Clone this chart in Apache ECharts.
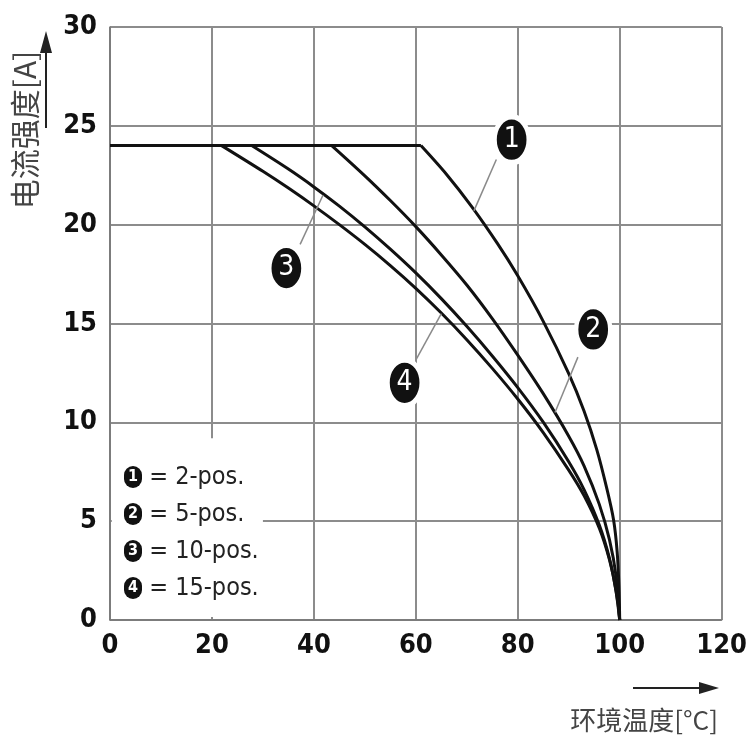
<!DOCTYPE html>
<html><head><meta charset="utf-8">
<script src="https://cdn.jsdelivr.net/npm/echarts@6/dist/echarts.min.js"></script>
<style>html,body{margin:0;padding:0;background:#fff}#c{width:750px;height:750px}</style>
</head><body><div id="c"></div>
<script>
// ---- data (temperature °C, current A) ----
const seriesNames = ['2-pos.', '5-pos.', '10-pos.', '15-pos.'];
// first point = start of the 24 A plateau, second point = knee where derating starts
const curve2pos = [[0,24],[61,24],[66,22.55],[71,20.9],[76,19.05],[80,17.41],[85,15.11],[90,12.46],[93,10.57],[95.5,8.62],[97.5,6.62],[98.8,5.06],[99.5,3.45],[99.85,1.7],[100,0]];
const curve5pos = [[0,24],[43.5,24],[50,22.47],[55,21.22],[60,19.9],[65,18.47],[70,16.95],[75,15.25],[80,13.4],[85,11.45],[90,9.3],[93,7.8],[96,5.85],[98,4.05],[99.3,2.2],[100,0]];
const curve10pos = [[0,24],[27.8,24],[35,22.81],[40,21.91],[45,20.94],[50,19.89],[55,18.76],[60,17.56],[65,16.26],[70,14.86],[75,13.36],[80,11.76],[85,10.01],[90,8.01],[93,6.6],[96,4.8],[98,3.1],[99.3,1.41],[100,0]];
const curve15pos = [[0,24],[21.9,24],[30,22.7],[35,21.85],[40,20.95],[45,20.0],[50,19.0],[55,17.93],[60,16.78],[65,15.53],[70,14.18],[75,12.73],[80,11.18],[85,9.48],[90,7.58],[93,6.29],[96,4.64],[98,3.04],[99.3,1.48],[100,0]];
const curves = [curve2pos, curve5pos, curve10pos, curve15pos];
const calloutNumbers = ['1', '2', '3', '4'];
const xAxisName = '环境温度[°C]';
const yAxisName = '电流强度[A]';

// ---- annotation placement (data units) ----
const calloutCenters = [[78.8,24.3],[94.8,14.7],[34.6,17.8],[57.8,12.0]];
const leaderLines = [
  [[75.8,23.3],[71.4,20.7]],
  [[91.8,13.3],[87.3,10.5]],
  [[37.3,19.0],[41.8,21.5]],
  [[60.1,13.2],[65.0,15.5]]
];
const legendBox = [[0.35,0.15],[30,9.2]];

const FONT = '"Liberation Sans Narrow","DejaVu Sans Condensed","Liberation Sans",sans-serif';
const CJK = '"Noto Sans CJK SC",sans-serif';

const chart = echarts.init(document.getElementById('c'), null, {renderer:'canvas'});

const series = [];
curves.forEach((d, i) => {
  // plateau (straight)
  series.push({
    type: 'line',
    data: d.slice(0, 2),
    smooth: false,
    showSymbol: false,
    symbol: 'none',
    silent: true,
    lineStyle: {color: '#111', width: 3},
    z: 3
  });
  // derating curve (smooth), carries legend name + annotations
  const s = {
    type: 'line',
    name: seriesNames[i],
    data: d.slice(1),
    smooth: 0.3,
    showSymbol: false,
    symbol: 'none',
    lineStyle: {color: '#111', width: 3},
    itemStyle: {color: '#111'},
    z: 3,
    markLine: {
      silent: true,
      symbol: ['none', 'none'],
      label: {show: false},
      lineStyle: {color: '#8a8a8a', width: 1.5, type: 'solid'},
      data: [[{coord: leaderLines[i][0]}, {coord: leaderLines[i][1]}]]
    },
    markPoint: {
      silent: true,
      symbol: 'circle',
      symbolSize: [34, 46],
      itemStyle: {color: '#111', borderColor: '#fff', borderWidth: 5},
      label: {show: true, color: '#fff', fontSize: 28, fontFamily: FONT, formatter: '{c}'},
      data: [{coord: calloutCenters[i], value: calloutNumbers[i]}]
    }
  };
  if (i === 0) {
    s.markArea = {
      silent: true,
      itemStyle: {color: '#fff', opacity: 1},
      label: {show: false},
      data: [[{coord: legendBox[0]}, {coord: legendBox[1]}]]
    };
  }
  series.push(s);
});

const axisCommon = {
  type: 'value',
  axisLine: {show: true, lineStyle: {color: '#777', width: 1.5}},
  axisTick: {show: false},
  splitLine: {show: true, lineStyle: {color: '#8c8c8c', width: 2}},
  axisLabel: {color: '#111', fontSize: 27, fontWeight: 'bold', fontFamily: FONT}
};

chart.setOption({
  animation: false,
  backgroundColor: '#fff',
  grid: {left: 110, right: 28, top: 27, bottom: 130, containLabel: false},
  xAxis: Object.assign({}, axisCommon, {min: 0, max: 120, interval: 20,
    axisLabel: Object.assign({}, axisCommon.axisLabel, {margin: 12})}),
  yAxis: Object.assign({}, axisCommon, {min: 0, max: 30, interval: 5,
    axisLabel: Object.assign({}, axisCommon.axisLabel, {margin: 13})}),
  legend: {
    orient: 'vertical',
    left: 114,
    top: 458,
    icon: 'none',
    itemWidth: 0,
    itemHeight: 0,
    itemGap: 9,
    selectedMode: false,
    data: seriesNames,
    formatter: name => '{n|' + calloutNumbers[seriesNames.indexOf(name)] + '} = ' + name,
    textStyle: {
      color: '#222', fontSize: 25, lineHeight: 28, fontFamily: FONT,
      rich: {
        n: {backgroundColor: '#111', color: '#fff', width: 18, height: 22, lineHeight: 22,
            borderRadius: 9, align: 'center', fontSize: 16, fontWeight: 'bold', fontFamily: FONT}
      }
    }
  },
  graphic: [
    {type: 'text', x: 25, y: 130, rotation: Math.PI / 2,
     style: {text: yAxisName, font: '30px ' + CJK, fill: '#444', align: 'center', verticalAlign: 'middle'}},
    {type: 'line', shape: {x1: 46, y1: 128, x2: 46, y2: 50}, style: {stroke: '#222', lineWidth: 2}},
    {type: 'polygon', shape: {points: [[46, 31], [40, 53], [52, 53]]}, style: {fill: '#222'}},
    {type: 'text', x: 718, y: 720,
     style: {text: xAxisName, font: '26px ' + CJK, fill: '#444', align: 'right', verticalAlign: 'middle'}},
    {type: 'line', shape: {x1: 633, y1: 688, x2: 702, y2: 688}, style: {stroke: '#222', lineWidth: 2}},
    {type: 'polygon', shape: {points: [[719, 688], [699, 682], [699, 694]]}, style: {fill: '#222'}}
  ],
  series: series
});
</script>
</body></html>
